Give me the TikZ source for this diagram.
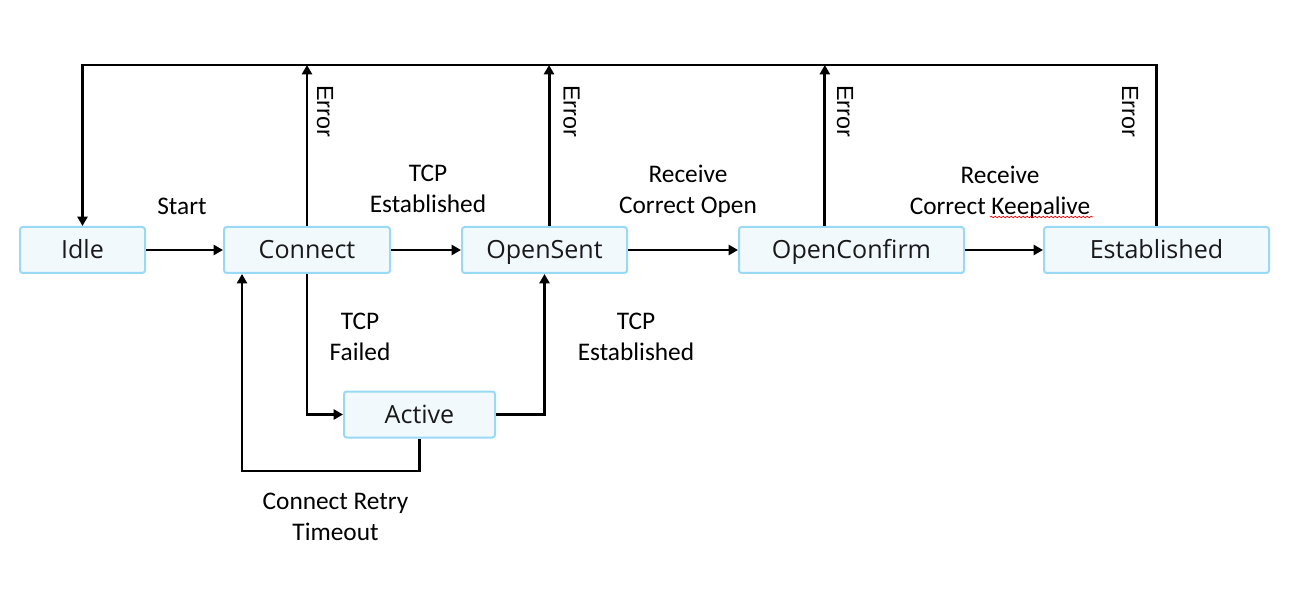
\documentclass[tikz,border=0pt]{standalone}
\usepackage{fontspec}
\setmainfont{Carlito}
\newfontfamily\boxfont{Open Sans}
\newfontfamily\errfont{Liberation Sans}
\usetikzlibrary{arrows.meta,decorations.pathmorphing}
\definecolor{boxfill}{HTML}{F2F9FD}
\definecolor{boxline}{HTML}{9AD9F4}

\begin{document}
\begin{tikzpicture}[x=0.75pt,y=-0.75pt,
  state/.style={draw=boxline,fill=boxfill,line width=1.5pt,rounded corners=2pt,
    minimum height=34.5pt,inner sep=0pt,text=black!90,text height=15pt,text depth=1.6pt,
    font=\boxfont\fontsize{18.8}{22}\selectfont},
  lbl/.style={align=center,inner sep=0pt,font=\fontsize{19}{23}\selectfont},
  err/.style={rotate=-90,inner sep=0pt,font=\errfont\fontsize{17.5}{20}\selectfont},
  arr/.style={-{Triangle[length=7pt,width=7.5pt]},line width=2.2pt},
  wire/.style={line width=2.2pt}]
\useasboundingbox (0,0) rectangle (1292,595);

% states
\node[state,minimum width=93.75pt] (idle) at (82.5,250) {Idle};
\node[state,minimum width=124.5pt] (conn) at (307,250) {Connect};
\node[state,minimum width=123.75pt] (sent) at (544.5,250) {OpenSent};
\node[state,minimum width=168.75pt] (conf) at (851.5,250) {OpenConfirm};
\node[state,minimum width=168.75pt] (est) at (1156.5,250) {Established};
\node[state,minimum width=113.25pt] (act) at (419.5,414.5) {Active};

\coordinate (topL) at (82.5,65);
\coordinate (retry) at (242,471);

% main path
\draw[arr] (idle) -- (conn);
\draw[arr] (conn) -- (sent);
\draw[arr] (sent) -- (conf);
\draw[arr] (conf) -- (est);

% errors back to idle
\draw[arr] (est.north) -- (est.north |- topL) -- (topL) -- (idle.north);
\draw[arr] (conn.north) -- (conn.north |- topL);
\draw[arr] ([xshift=3.4pt]sent.north) -- ([xshift=3.4pt]sent.north |- topL);
\draw[arr] ([xshift=-20pt]conf.north) -- ([xshift=-20pt]conf.north |- topL);

% active loop
\draw[arr] (conn.south) |- (act.west);
\draw[arr] (act.east) -| (sent.south);
\draw[arr] (act.south) |- (retry) -- (retry |- conn.south);

% labels
\node[lbl] (lstart) at (182,206) {Start};
\node[lbl] (ltcp1) at (428,189) {TCP\\Established};
\node[lbl] (lopen) at (688,191) {Receive\\Correct Open};
\node[lbl] (lka) at (1000,192) {Receive\\Correct Keepalive};
\node[lbl] (lfail) at (360,337) {TCP\\Failed};
\node[lbl] (ltcp2) at (636,337) {TCP\\Established};
\node[lbl] (lretry) at (335.5,517) {Connect Retry\\Timeout};

\node[err] (e1) at (325,111) {Error};
\node[err] (e2) at (571.5,111) {Error};
\node[err] (e3) at (845,111) {Error};
\node[err] (e4) at (1130,111) {Error};

\draw[red,line width=0.5pt,decorate,decoration={snake,amplitude=0.6pt,segment length=3pt}]
  (990,217) -- (1093,217);
\end{tikzpicture}
\end{document}
